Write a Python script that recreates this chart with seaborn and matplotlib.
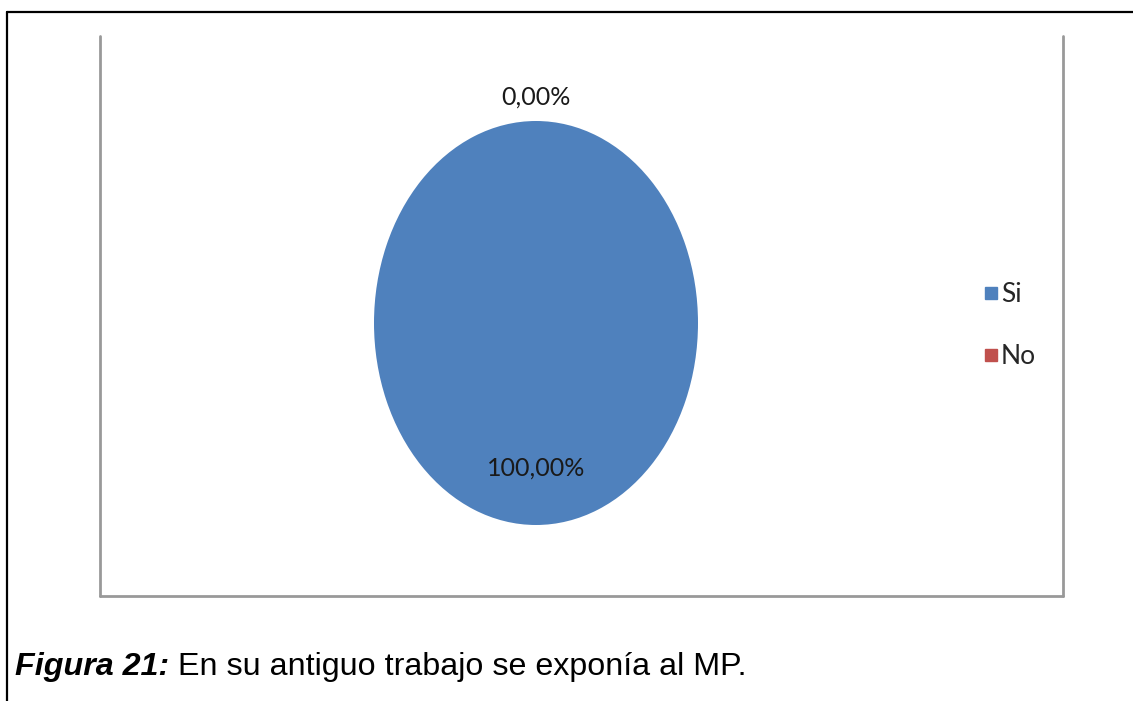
import numpy as np
import matplotlib
matplotlib.use("Agg")
import matplotlib.pyplot as plt
from matplotlib.lines import Line2D
import seaborn as sns

categories = ["Si", "No"]
values = [100.0, 0.0]
value_labels = ["100,00%", "0,00%"]
colors = ["#4F81BD", "#C0504D"]
caption_bold = "Figura 21:"
caption_rest = " En su antiguo trabajo se exponía al MP."

sns.set_theme(style="white")
plt.rcParams["font.family"] = ["Lato", "DejaVu Sans"]

W, H = 1133, 701
fig = plt.figure(figsize=(W / 100, H / 100), dpi=100)
fig.patch.set_facecolor("white")

def fx(x):
    return x / W

def fy(y):
    return 1 - y / H

# pie axes (ellipse)
ax = fig.add_axes([fx(374), fy(525), fx(698) - fx(374), fy(121) - fy(525)])
wedges, _ = ax.pie(values, colors=colors, startangle=90, counterclock=False,
                   wedgeprops=dict(linewidth=0))
ax.set_aspect("auto")
ax.set_xlim(-1, 1)
ax.set_ylim(-1, 1)
ax.axis("off")

# data labels computed from wedge angles
for w, lab, v in zip(wedges, value_labels, values):
    mid = np.deg2rad((w.theta1 + w.theta2) / 2)
    r = 0.72 if v > 0 else 1.12
    ax.text(r * np.cos(mid), r * np.sin(mid), lab,
            ha="center", va="center", fontsize=18, color="#1a1a1a",
            clip_on=False)

# legend
handles = [Line2D([0], [0], marker="s", linestyle="none", markersize=9,
                  markerfacecolor=c, markeredgecolor=c) for c in colors]
fig.legend(handles, categories, loc="upper left",
           bbox_to_anchor=(fx(975), fy(282)), frameon=False, fontsize=19,
           handletextpad=-0.22, labelspacing=1.4, handlelength=1.2,
           borderpad=0, borderaxespad=0)

# chart area frame (gray, open at top)
gray = "#999999"
fig.add_artist(Line2D([fx(100), fx(100)], [fy(36), fy(596)], color=gray, lw=2))
fig.add_artist(Line2D([fx(1063), fx(1063)], [fy(36), fy(596)], color=gray, lw=2))
fig.add_artist(Line2D([fx(100), fx(1063)], [fy(596), fy(596)], color=gray, lw=2))

# outer black border (top and left)
fig.add_artist(Line2D([fx(7), fx(W)], [fy(12), fy(12)], color="black", lw=1.6))
fig.add_artist(Line2D([fx(7), fx(7)], [fy(12), fy(H)], color="black", lw=1.6))

# caption
cap_font = ["Liberation Sans", "DejaVu Sans"]
t1 = fig.text(fx(15), fy(675), caption_bold, fontsize=23.2, fontweight="bold",
              fontstyle="italic", family=cap_font,
              ha="left", va="baseline", color="black")
fig.canvas.draw()
bb = t1.get_window_extent()
fig.text(bb.x1 / W, fy(675), caption_rest, fontsize=23.2,
         family=cap_font, ha="left", va="baseline", color="black")

fig.savefig("out.png", dpi=100, facecolor="white")
